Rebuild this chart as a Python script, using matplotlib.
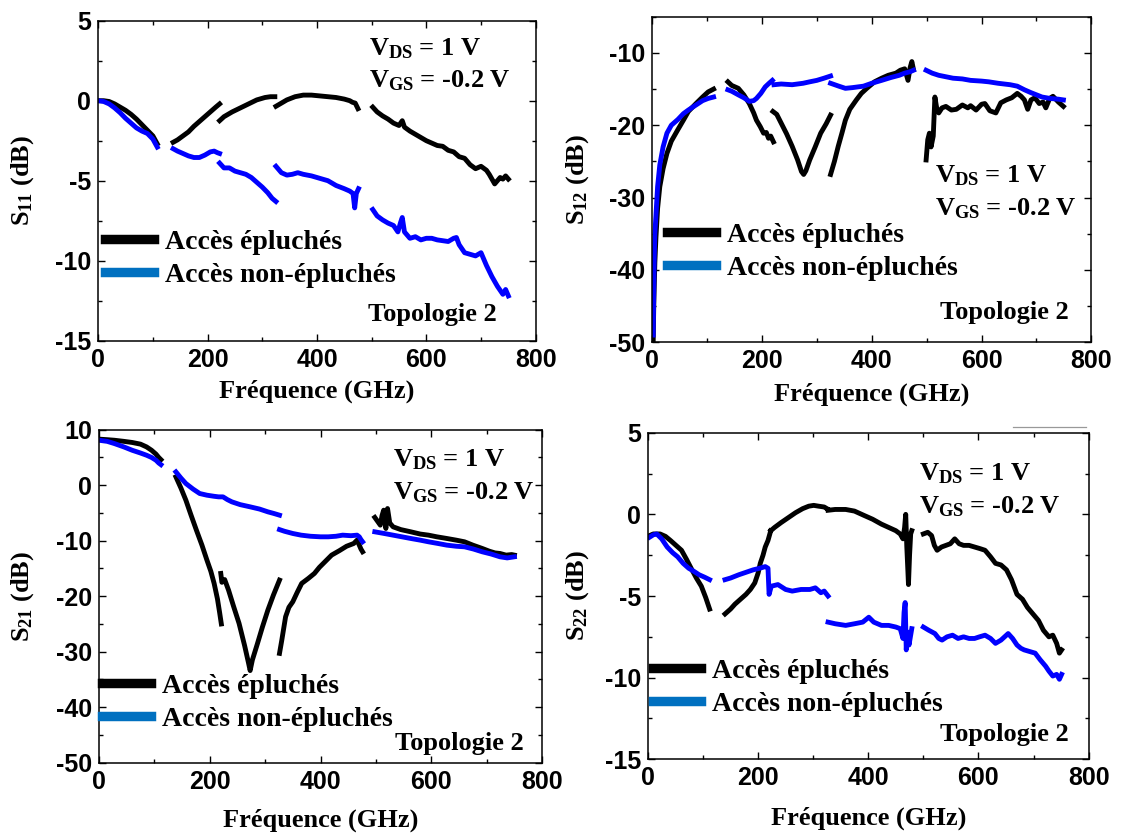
import numpy as np
import matplotlib
matplotlib.use("Agg")
import matplotlib.pyplot as plt
from matplotlib.lines import Line2D
from matplotlib.ticker import MultipleLocator

plt.rcParams['axes.unicode_minus'] = False
plt.rcParams['mathtext.fontset'] = 'custom'
plt.rcParams['mathtext.rm'] = 'Liberation Serif:bold'
plt.rcParams['mathtext.it'] = 'Liberation Serif:bold'
plt.rcParams['mathtext.bf'] = 'Liberation Serif:bold'

# ---- S11 ----
s11_f_ep = [[0, 10, 20, 30, 40, 50, 60, 70, 80, 90, 100, 108],
            [137, 145, 155, 165, 175, 185, 195, 205, 215, 222],
            [222, 230, 245, 260, 275, 290, 305, 315, 323],
            [325, 335, 345, 360, 375, 390, 405, 420, 435, 450, 460, 465, 470, 475],
            [502, 510, 520, 530, 540, 550, 556, 560, 570, 580, 590, 600, 610, 620, 630, 640,
             650, 660, 670, 680, 690, 700, 710, 715, 720, 725, 730, 735, 740, 745, 750]]
s11_db_ep = [[0, 0, -0.05, -0.2, -0.4, -0.6, -0.85, -1.15, -1.5, -1.85, -2.2, -2.7],
             [-2.6, -2.45, -2.2, -1.95, -1.6, -1.3, -1.0, -0.7, -0.4, -0.2],
             [-1.25, -1.0, -0.7, -0.45, -0.2, 0.05, 0.2, 0.25, 0.25],
             [-0.35, -0.15, 0.05, 0.25, 0.35, 0.35, 0.3, 0.25, 0.2, 0.1, 0.0, -0.1, -0.15, -0.5],
             [-0.4, -0.7, -0.95, -1.15, -1.4, -1.55, -1.25, -1.65, -1.9, -2.1, -2.3, -2.5, -2.65,
              -2.8, -2.85, -3.1, -3.2, -3.5, -3.6, -4.0, -4.25, -4.1, -4.35, -4.6, -4.9, -5.2,
              -5.0, -4.8, -4.9, -4.7, -4.9]]
s11_f_nep = [[0, 10, 20, 30, 40, 50, 60, 70, 80, 90, 100, 108],
             [137, 145, 155, 165, 175, 185, 195, 205, 212, 218, 222],
             [222, 230, 240, 250, 260, 270, 280, 290, 300, 310, 318, 325],
             [325, 335, 345, 355, 365, 375, 390, 405, 420, 435, 450, 460, 466, 469, 472, 476],
             [502, 510, 520, 530, 540, 548, 553, 556, 560, 570, 580, 590, 600, 610, 620, 630,
              640, 650, 655, 660, 670, 680, 690, 700, 705, 710, 720, 730, 740, 745, 750]]
s11_db_nep = [[0, -0.05, -0.2, -0.45, -0.75, -1.1, -1.4, -1.7, -1.9, -2.05, -2.4, -2.9],
              [-3.0, -3.15, -3.3, -3.45, -3.55, -3.55, -3.4, -3.2, -3.15, -3.25, -3.3],
              [-3.9, -4.2, -4.2, -4.4, -4.5, -4.6, -4.8, -5.1, -5.4, -5.75, -6.1, -6.3],
              [-4.1, -4.5, -4.65, -4.6, -4.5, -4.6, -4.7, -4.85, -5.0, -5.3, -5.5, -5.65, -5.8,
               -6.7, -5.8, -5.5],
              [-6.8, -7.2, -7.45, -7.65, -7.8, -8.2, -7.6, -7.3, -8.2, -8.6, -8.5, -8.7, -8.6,
               -8.6, -8.7, -8.75, -8.8, -8.6, -8.55, -9.0, -9.5, -9.6, -9.7, -9.5, -9.9, -10.3,
               -11.0, -11.6, -12.1, -11.8, -12.2]]

# ---- S12 ----
s12_f_ep = [[2, 3, 4, 5, 7, 10, 14, 20, 27, 35, 47, 57, 66, 80, 92, 102, 112],
            [138, 145, 157, 167, 177, 185, 190, 197, 203, 208, 212, 216, 221],
            [220, 227, 235, 245, 255, 265, 272, 276, 280, 287, 297, 307, 317, 325],
            [325, 332, 339, 346, 352, 360, 372, 381, 391, 405, 418, 430, 444, 452, 460, 466,
             470, 473, 476],
            [499, 502, 505, 508, 512, 515, 518, 522, 528, 535, 545, 554, 565, 575, 580, 590,
             600, 606, 615, 626, 635, 645, 655, 665, 672, 678, 684, 690, 697, 705, 712, 717,
             724, 730, 740, 749]]
s12_db_ep = [[-50, -45, -42, -39, -35.5, -31.5, -28.5, -26, -23.9, -22.2, -20.6, -19.3, -18.1,
              -17, -16.1, -15.4, -15.0],
             [-14.0, -14.5, -14.9, -15.8, -17.0, -18.3, -19.3, -20.2, -21.1, -21.0, -21.8, -21.5,
              -22.3],
             [-18.1, -18.5, -19.7, -21.2, -22.9, -24.8, -26.4, -26.8, -26.3, -24.8, -23.0, -21.1,
              -19.8, -18.6],
             [-26.8, -25.0, -22.9, -21.0, -19.3, -17.8, -16.5, -15.6, -14.9, -14.0, -13.5, -13.1,
              -12.8, -12.4, -12.2, -13.8, -12.0, -11.2, -12.3],
             [-24.8, -22.0, -21.1, -23.0, -21.5, -16.1, -17.5, -18.3, -17.6, -17.4, -17.9, -17.8,
              -17.2, -17.6, -17.3, -17.9, -17.1, -17.0, -18.0, -18.3, -16.9, -16.5, -16.2, -15.6,
              -16.0, -16.5, -17.8, -16.5, -16.2, -17.0, -16.8, -17.6, -16.3, -16.0, -16.8, -17.4]]
s12_f_nep = [[2, 3, 4, 5, 7, 10, 14, 20, 27, 35, 47, 57, 66, 80, 92, 102, 112],
             [138, 145, 157, 167, 177, 185, 190, 198, 206, 213, 219],
             [222, 235, 255, 275, 287, 300, 313, 325],
             [325, 340, 352, 365, 385, 400, 418, 435, 450, 460, 470, 476],
             [499, 510, 522, 535, 548, 565, 580, 600, 613, 630, 652, 665, 678, 690, 700, 710,
              725, 740, 749]]
s12_db_nep = [[-49, -43, -38, -35, -32.5, -28.5, -25.5, -23, -21.1, -20.0, -19.2, -18.4, -17.9,
               -17.2, -16.6, -16.3, -16.1],
              [-15.1, -15.3, -15.8, -16.2, -16.7, -16.6, -16.3, -15.6, -14.7, -14.2, -13.8],
              [-14.4, -14.3, -14.4, -14.2, -14.0, -13.8, -13.5, -13.2],
              [-14.2, -14.6, -14.9, -14.8, -14.6, -14.2, -13.8, -13.4, -13.1, -12.8, -12.6, -12.4],
              [-12.4, -12.8, -13.1, -13.3, -13.5, -13.6, -13.8, -13.9, -14.0, -14.2, -14.4, -14.6,
               -15.1, -15.5, -15.8, -16.1, -16.3, -16.4, -16.5]]

# ---- S21 ----
s21_f_ep = [[0, 15, 28, 45, 60, 75, 86, 95, 103, 108, 112],
            [139, 148, 157, 166, 176, 186, 195, 202, 208, 214, 218, 221],
            [220, 222, 227, 234, 243, 253, 263, 270, 273, 277, 286, 295, 305, 315, 326],
            [326, 330, 337, 343, 350, 358, 366, 378, 389, 398, 408, 420, 434, 447, 460, 466,
             470, 473, 476],
            [498, 503, 508, 511, 514, 518, 521, 525, 531, 545, 563, 580, 595, 610, 628, 645,
             660, 675, 692, 705, 715, 724, 735, 745, 750]]
s21_db_ep = [[8.3, 8.2, 8.1, 7.9, 7.7, 7.4, 6.9, 6.3, 5.6, 5.0, 4.6],
             [1.5, -0.5, -2.7, -5.3, -8.1, -10.8, -13.5, -15.5, -17.7, -20.5, -23.0, -25.0],
             [-15.9, -17.5, -17.0, -18.9, -21.8, -24.9, -28.9, -32.0, -33.4, -31.5, -28.6, -25.6,
              -22.5, -19.8, -17.1],
             [-30.3, -28.0, -23.7, -22.0, -21.0, -19.3, -17.7, -16.8, -15.9, -14.8, -13.8, -12.6,
              -11.8, -11.0, -10.5, -9.9, -10.8, -11.5, -12.0],
             [-5.8, -6.5, -7.2, -5.5, -4.5, -7.8, -4.2, -6.8, -7.5, -8.0, -8.4, -8.8, -9.0, -9.3,
              -9.6, -9.9, -10.2, -10.8, -11.4, -11.9, -12.2, -12.3, -12.6, -12.5, -12.6]]
s21_f_nep = [[0, 15, 28, 45, 60, 75, 86, 95, 103, 108, 112],
             [139, 148, 157, 170, 182, 195, 208, 216, 224, 232, 240, 255, 273, 290, 305, 316, 326],
             [326, 335, 350, 365, 382, 400, 414, 428, 440, 455, 466, 470, 473, 476],
             [498, 515, 531, 547, 563, 580, 595, 612, 628, 645, 660, 676, 692, 708, 724, 737, 750]]
s21_db_nep = [[8.1, 7.9, 7.5, 6.9, 6.3, 5.8, 5.4, 5.0, 4.5, 4.0, 3.7],
              [2.4, 1.3, 0.3, -0.7, -1.5, -1.8, -2.0, -2.1, -2.1, -2.6, -3.0, -3.5, -3.9, -4.3,
               -4.8, -5.1, -5.4],
              [-8.0, -8.3, -8.7, -9.0, -9.2, -9.3, -9.3, -9.2, -9.0, -9.1, -9.0, -9.3, -9.8, -10.2],
              [-8.4, -8.7, -9.0, -9.3, -9.6, -9.9, -10.2, -10.5, -10.8, -11.0, -11.1, -11.5, -12.0,
               -12.4, -12.9, -13.1, -12.9]]

# ---- S22 ----
s22_f_ep = [[3, 10, 22, 32, 41, 51, 61, 70, 80, 88, 97, 105, 112],
            [140, 150, 158, 168, 178, 186, 194, 200, 204, 209, 213, 218, 223],
            [223, 230, 242, 255, 268, 281, 292, 301, 310, 320, 325],
            [327, 340, 359, 375, 392, 408, 424, 437, 450, 458, 463, 466, 468, 470, 472, 473,
             475, 477, 479],
            [500, 508, 515, 520, 525, 533, 541, 549, 557, 565, 573, 583, 593, 603, 612, 622,
             631, 641, 651, 660, 670, 680, 689, 699, 709, 718, 728, 735, 742, 747, 751]]
s22_db_ep = [[-1.3, -1.2, -1.2, -1.35, -1.6, -1.9, -2.2, -2.75, -3.4, -3.9, -4.4, -5.1, -5.8],
             [-6.1, -5.8, -5.5, -5.2, -4.9, -4.6, -4.2, -3.6, -3.0, -2.5, -2.0, -1.6, -1.0],
             [-1.0, -0.8, -0.5, -0.2, 0.1, 0.35, 0.5, 0.55, 0.5, 0.45, 0.35],
             [0.25, 0.3, 0.3, 0.2, -0.06, -0.3, -0.6, -0.8, -1.0, -1.2, -1.5, -0.8, 0.0, -2.0,
              -3.5, -4.3, -2.5, -1.2, -1.0],
             [-1.2, -1.1, -1.3, -1.9, -2.2, -2.0, -1.9, -1.8, -1.5, -1.8, -1.9, -1.9, -2.0, -2.1,
              -2.2, -2.6, -3.0, -3.1, -3.4, -4.0, -4.9, -5.2, -5.7, -6.1, -6.5, -7.1, -7.5, -7.4,
              -7.9, -8.5, -8.3]]
s22_f_nep = [[3, 10, 16, 25, 35, 45, 54, 64, 74, 84, 93, 103, 112],
             [140, 150, 165, 178, 191, 203, 213, 218, 220, 224, 236, 250, 262, 278, 294, 304,
              314, 320, 327],
             [327, 340, 359, 375, 390, 401, 410, 424, 437, 450, 458, 463, 465, 467, 469, 471,
              474, 479],
             [500, 510, 521, 528, 534, 543, 553, 563, 573, 583, 593, 602, 612, 622, 631, 641,
              654, 662, 670, 677, 683, 693, 703, 712, 722, 728, 735, 742, 747, 751]]
s22_db_nep = [[-1.4, -1.25, -1.2, -1.5, -2.0, -2.35, -2.6, -3.0, -3.3, -3.5, -3.7, -3.85, -4.0],
              [-4.0, -3.9, -3.7, -3.55, -3.4, -3.3, -3.2, -3.3, -4.9, -4.4, -4.3, -4.6, -4.7,
               -4.6, -4.6, -4.5, -4.8, -4.7, -5.0],
              [-6.6, -6.7, -6.8, -6.7, -6.6, -6.3, -6.6, -6.8, -6.8, -6.9, -7.0, -7.6, -6.0,
               -5.4, -8.3, -7.2, -8.0, -7.0],
              [-6.9, -7.1, -7.3, -7.6, -7.7, -7.5, -7.4, -7.6, -7.5, -7.6, -7.6, -7.5, -7.4,
               -7.6, -7.9, -7.7, -7.3, -7.6, -8.0, -8.2, -8.3, -8.4, -8.5, -8.9, -9.3, -9.6,
               -9.9, -9.8, -10.1, -9.8]]

legend_labels = ['Accès épluchés', 'Accès non-épluchés']
serif = {'family': 'Liberation Serif', 'weight': 'bold'}


def join(segs):
    # segments separated by nan so the bands stay unconnected
    out = []
    for s in segs:
        out += list(s) + [np.nan]
    return np.array(out[:-1], dtype=float)


def panel(rect, f_ep, db_ep, f_nep, db_nep, ylim, ymaj, sub,
          leg_xy, txt_xy, topo_xy, xlab_y, ylab_x):
    ax = fig.add_axes(rect)
    ax.plot(join(f_ep), join(db_ep), color='black', lw=3.5, solid_joinstyle='round')
    ax.plot(join(f_nep), join(db_nep), color='#0000ff', lw=3.5, solid_joinstyle='round')
    ax.set_xlim(0, 800)
    ax.set_ylim(*ylim)
    ax.xaxis.set_major_locator(MultipleLocator(200))
    ax.xaxis.set_minor_locator(MultipleLocator(100))
    ax.yaxis.set_major_locator(MultipleLocator(ymaj))
    ax.yaxis.set_minor_locator(MultipleLocator(ymaj / 2))
    ax.tick_params(which='both', direction='in', top=True, right=True, width=1)
    ax.tick_params(which='major', length=5)
    ax.tick_params(which='minor', length=3)
    ax.tick_params(axis='x', pad=5)
    ax.tick_params(axis='y', pad=5)
    for lab in ax.get_xticklabels() + ax.get_yticklabels():
        lab.set_fontfamily('Liberation Sans')
        lab.set_fontweight('bold')
        lab.set_fontsize(18)
    for sp in ax.spines.values():
        sp.set_linewidth(1.1)
    ax.set_xlabel('Fréquence (GHz)', fontdict=serif, fontsize=19)
    ax.set_ylabel(r'$S_{%s}$ (dB)' % sub, fontdict=serif, fontsize=19)
    ax.xaxis.set_label_coords(0.5, xlab_y)
    ax.yaxis.set_label_coords(ylab_x, 0.5)
    handles = [Line2D([], [], color='black', lw=6.8),
               Line2D([], [], color='#0070c0', lw=6.8)]
    ax.legend(handles, legend_labels, loc='center left', bbox_to_anchor=leg_xy,
              frameon=False, prop={'family': 'Liberation Serif', 'weight': 'bold', 'size': 20},
              handlelength=1.75, handletextpad=0.4, labelspacing=0.28,
              borderpad=0, borderaxespad=0)
    ax.text(txt_xy[0], txt_xy[1], r'$V_{DS}$ = 1 V', fontdict=serif, fontsize=19,
            va='baseline')
    ax.text(txt_xy[0], txt_xy[2], r'$V_{GS}$ = -0.2 V', fontdict=serif, fontsize=19,
            va='baseline')
    ax.text(topo_xy[0], topo_xy[1], 'Topologie 2', fontdict=serif, fontsize=19,
            va='baseline')
    return ax


W, H = 1121, 834
fig = plt.figure(figsize=(W / 100, H / 100), dpi=100)


def px(left, right, top, bottom):
    return [left / W, 1 - bottom / H, (right - left) / W, (bottom - top) / H]


panel(px(98.2, 535.7, 20.7, 340.7), s11_f_ep, s11_db_ep, s11_f_nep, s11_db_nep,
      (-15, 5), 5, '11', (0.016, 0.257), (496, 2.85, 0.83), (493, -13.8), -0.123, -0.143)
panel(px(652.1, 1091.4, 16.7, 342.3), s12_f_ep, s12_db_ep, s12_f_nep, s12_db_nep,
      (-50, -5), 10, '12', (0.034, 0.279), (515, -27.9, -32.5), (525, -46.8), -0.125, -0.14)
panel(px(98.9, 542.1, 429.7, 762.7), s21_f_ep, s21_db_ep, s21_f_nep, s21_db_nep,
      (-50, 10), 10, '21', (0.008, 0.18), (530, 3.3, -2.6), (534, -47.8), -0.138, -0.143)
panel(px(647.9, 1088.6, 432.7, 759.3), s22_f_ep, s22_db_ep, s22_f_nep, s22_db_nep,
      (-15, 5), 5, '22', (0.011, 0.219), (492, 2.08, 0.04), (531, -13.9), -0.146, -0.13)

# stray grey stroke above the last panel
fig.add_artist(Line2D([1013 / W, 1086 / W], [1 - 426.7 / H, 1 - 426.7 / H],
                      color='#999999', lw=0.9))

fig.savefig('out.png', dpi=100)
